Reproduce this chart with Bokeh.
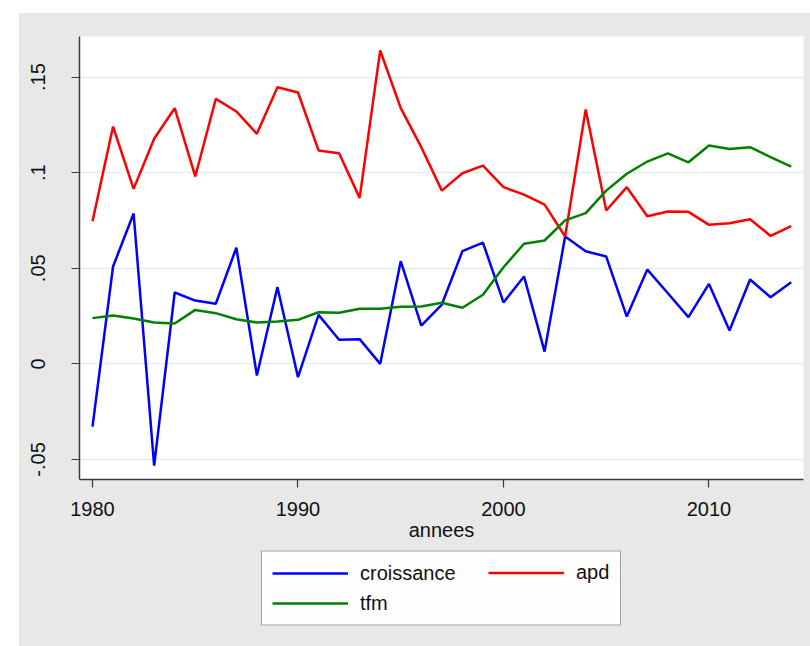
from bokeh.plotting import figure
from bokeh.models import Legend, LegendItem, FixedTicker, Range1d, Spacer
from bokeh.layouts import column, row
from bokeh.embed import file_html
from bokeh.resources import INLINE

annees = list(range(1980, 2015))
croissance = [-0.0328, 0.0509, 0.0786, -0.0532, 0.0373, 0.0331, 0.0314, 0.0607, -0.0061, 0.0401,
              -0.0070, 0.0256, 0.0126, 0.0129, 0.0000, 0.0537, 0.0200, 0.0310, 0.0589, 0.0634,
              0.0321, 0.0457, 0.0064, 0.0666, 0.0589, 0.0561, 0.0247, 0.0493, 0.0369, 0.0244,
              0.0418, 0.0174, 0.0441, 0.0348, 0.0427]
apd = [0.0746, 0.1241, 0.0915, 0.1177, 0.1337, 0.0980, 0.1386, 0.1320, 0.1203, 0.1447,
       0.1419, 0.1116, 0.1101, 0.0868, 0.1639, 0.1337, 0.1133, 0.0906, 0.0997, 0.1037,
       0.0924, 0.0885, 0.0833, 0.0666, 0.1330, 0.0802, 0.0924, 0.0772, 0.0797, 0.0795,
       0.0727, 0.0735, 0.0756, 0.0669, 0.0720]
tfm = [0.0239, 0.0253, 0.0237, 0.0216, 0.0211, 0.0282, 0.0265, 0.0233, 0.0216, 0.0221,
       0.0230, 0.0270, 0.0267, 0.0288, 0.0288, 0.0298, 0.0300, 0.0319, 0.0293, 0.0361,
       0.0505, 0.0628, 0.0645, 0.0750, 0.0788, 0.0906, 0.0994, 0.1058, 0.1101, 0.1054,
       0.1142, 0.1124, 0.1133, 0.1081, 0.1032]

y_ticks = [-0.05, 0.0, 0.05, 0.1, 0.15]
y_tick_labels = ["-.05", "0", ".05", ".1", ".15"]
x_ticks = [1980, 1990, 2000, 2010]

FONT = "Liberation Sans"
GRAY = "#E8E8E8"
COLORS = {"croissance": "#0000FF", "apd": "#FF0000", "tfm": "#008000"}

p = figure(width=791, height=535, output_backend="svg", toolbar_location=None,
           x_range=Range1d(1979.367, 2014.6), y_range=Range1d(-0.0605, 0.1712),
           min_border_left=60, min_border_right=7, min_border_top=23, min_border_bottom=69,
           background_fill_color="white", border_fill_color=GRAY,
           outline_line_color=None)
p.styles = {"background-color": GRAY}

p.line(annees, croissance, line_color=COLORS["croissance"], line_width=2.5)
p.line(annees, apd, line_color=COLORS["apd"], line_width=2.5)
p.line(annees, tfm, line_color=COLORS["tfm"], line_width=2.5)

for ax in (p.xaxis[0], p.yaxis[0]):
    ax.axis_line_color = "#3a3a3a"
    ax.axis_line_width = 1.5
    ax.major_tick_line_color = "#3a3a3a"
    ax.major_tick_line_width = 1.2
    ax.major_tick_out = 8
    ax.major_tick_in = 0
    ax.minor_tick_line_color = None
    ax.major_label_text_font = FONT
    ax.major_label_text_font_size = "20px"
    ax.major_label_text_color = "#111111"
    ax.axis_label_text_font = FONT
    ax.axis_label_text_font_size = "20px"
    ax.axis_label_text_font_style = "normal"
    ax.axis_label_text_color = "#111111"

p.xaxis.ticker = FixedTicker(ticks=x_ticks)
p.xaxis.axis_label = "annees"
p.xaxis.major_label_standoff = 14
p.xaxis.axis_label_standoff = 0

p.yaxis.ticker = FixedTicker(ticks=y_ticks)
p.yaxis.major_label_overrides = {t: s for t, s in zip(y_ticks, y_tick_labels)}
p.yaxis.major_label_orientation = "vertical"
p.yaxis.major_label_standoff = 26

p.xgrid.grid_line_color = None
p.ygrid.ticker = FixedTicker(ticks=y_ticks)
p.ygrid.grid_line_color = "#E4EDF0"
p.ygrid.grid_line_width = 1.5

# legend strip below the graph
pl = figure(width=791, height=98, output_backend="svg", toolbar_location=None,
            x_range=Range1d(0, 1), y_range=Range1d(0, 1),
            x_axis_location=None, y_axis_location=None,
            min_border_left=60, min_border_right=7, min_border_top=0, min_border_bottom=19,
            background_fill_color=GRAY, border_fill_color=GRAY, outline_line_color=None)
pl.styles = {"background-color": GRAY}
pl.grid.visible = False
lr = {}
for name, vals in (("croissance", croissance), ("apd", apd), ("tfm", tfm)):
    lr[name] = pl.line(annees, vals, line_color=COLORS[name], line_width=2.5, visible=False)

common = dict(glyph_width=76, glyph_height=23, label_height=23, label_standoff=12,
              padding=10, spacing=7,
              label_text_font=FONT, label_text_font_size="20px", label_text_color="#111111",
              background_fill_color="white")

leg_a = Legend(items=[LegendItem(label="croissance", renderers=[lr["croissance"]]),
                      LegendItem(label="tfm", renderers=[lr["tfm"]])],
               location="center", margin=0, label_width=250,
               border_line_color="#404040", border_line_width=1, **common)
leg_b = Legend(items=[LegendItem(label="apd", renderers=[lr["apd"]])],
               location="top_right", margin=13, label_width=214,
               border_line_color=None, **common)
leg_b.background_fill_alpha = 0.0
pl.add_layout(leg_a, "center")
pl.add_layout(leg_b, "center")

root = column(Spacer(height=13), row(Spacer(width=19), column(p, pl)))

open("out.html", "w").write(file_html(root, INLINE))
